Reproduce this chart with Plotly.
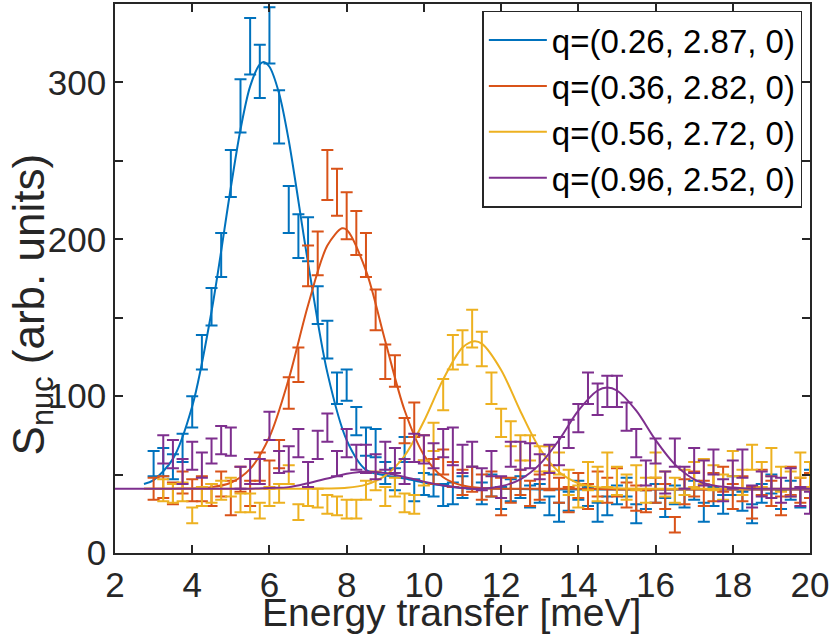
import plotly.graph_objects as go

# ---------------- data ----------------
energy = [3.00, 3.25, 3.50, 3.75, 4.00, 4.25, 4.50, 4.75, 5.00, 5.25, 5.50, 5.75,
          6.00, 6.25, 6.50, 6.75, 7.00, 7.25, 7.50, 7.75, 8.00, 8.25, 8.50, 8.75,
          9.00, 9.25, 9.50, 9.75, 10.00, 10.25, 10.50, 10.75, 11.00, 11.25, 11.50, 11.75,
          12.00, 12.25, 12.50, 12.75, 13.00, 13.25, 13.50, 13.75, 14.00, 14.25, 14.50, 14.75,
          15.00, 15.25, 15.50, 15.75, 16.00, 16.25, 16.50, 16.75, 17.00, 17.25, 17.50, 17.75,
          18.00, 18.25, 18.50, 18.75, 19.00, 19.25, 19.50, 19.75, 20.00]
energy_late = energy[1:]   # purple and yellow start at 3.25 meV

blue_val = [57, 58, 55, 67, 90, 128, 157, 190, 242, 285, 323, 307,
            330, 278, 219, 202, 200, 158, 136, 105, 107, 84, 71, 70,
            51, 47, 66, 40, 44, 43, 37, 38, 42, 48, 38, 43,
            35, 40, 42, 36, 38, 30, 26, 33, 40, 36, 26, 30,
            37, 42, 25, 34, 38, 29, 37, 35, 40, 26, 36, 31,
            43, 33, 25, 38, 44, 34, 40, 35, 47]
blue_err = [8, 9, 8, 9, 10, 11, 12, 14, 15, 17, 18, 17,
            18, 17, 15, 14, 14, 12, 12, 10, 10, 9, 9, 9,
            7, 7, 8, 7, 7, 7, 7, 7, 7, 7, 7, 7,
            7, 7, 7, 7, 6, 6, 6, 6, 6, 6, 6, 6,
            6, 6, 6, 6, 6, 6, 6, 6, 6, 6, 6, 6,
            6, 6, 6, 6, 6, 6, 6, 6, 6]

orange_val = [41, 42, 38, 45, 40, 41, 37, 44, 35, 47, 38, 55,
              50, 63, 102, 120, 183, 191, 241, 230, 215, 204, 190, 155,
              122, 116, 78, 85, 67, 52, 58, 50, 45, 47, 42, 44,
              36, 40, 45, 38, 42, 48, 40, 34, 43, 36, 44, 40,
              45, 37, 35, 33, 40, 36, 18, 39, 44, 38, 42, 47,
              36, 41, 32, 45, 38, 30, 46, 40, 43]
orange_err = [7, 7, 7, 7, 7, 8, 7, 8, 11, 8, 8, 9,
              9, 9, 10, 11, 13, 14, 16, 15, 15, 14, 14, 13,
              11, 10, 8, 11, 8, 8, 8, 8, 8, 8, 8, 8,
              12, 8, 8, 8, 8, 8, 8, 8, 8, 8, 8, 8,
              9, 8, 8, 7, 8, 8, 5, 8, 8, 8, 9, 8,
              8, 8, 10, 8, 8, 6, 9, 8, 8]

yellow_val = [40, 38, 39, 24, 36, 38, 40, 42, 32, 32, 27,
              36, 38, 50, 26, 36, 35, 31, 30, 28, 28, 40, 46,
              36, 42, 32, 31, 51, 74, 101, 128, 131, 143, 130, 105,
              83, 76, 67, 67, 60, 60, 57, 45, 36, 49, 44, 53,
              46, 42, 48, 40, 56, 44, 40, 45, 50, 52, 48, 42,
              57, 45, 61, 50, 58, 47, 44, 56, 50]
yellow_err = [7, 6, 6, 5, 6, 6, 6, 6, 6, 6, 5,
              6, 6, 6, 5, 6, 6, 6, 6, 6, 6, 6, 6,
              6, 6, 6, 6, 8, 9, 10, 11, 11, 12, 11, 10,
              9, 8, 8, 8, 8, 8, 7, 8, 7, 9, 11, 11,
              9, 8, 8, 8, 8, 8, 8, 8, 8, 8, 8, 8,
              8, 8, 8, 8, 9, 8, 8, 8, 8]

purple_val = [66, 63, 52, 62, 56, 65, 72, 71, 48, 52, 52,
              81, 58, 60, 70, 50, 69, 80, 57, 70, 61, 60, 55,
              62, 59, 52, 67, 66, 62, 70, 68, 60, 63, 47, 57,
              42, 63, 62, 62, 55, 60, 65, 76, 86, 105, 98, 103,
              103, 87, 70, 51, 65, 45, 64, 48, 59, 51, 58, 40,
              50, 57, 36, 44, 42, 40, 45, 36, 32]
purple_err = [9, 9, 8, 9, 8, 8, 9, 9, 7, 8, 8,
              9, 7, 8, 9, 8, 9, 9, 8, 9, 8, 9, 8,
              9, 8, 8, 9, 9, 8, 9, 12, 9, 8, 7, 8,
              7, 8, 9, 8, 8, 9, 9, 9, 9, 10, 10, 10,
              10, 9, 9, 8, 8, 7, 9, 7, 8, 8, 8, 7,
              9, 9, 7, 8, 7, 8, 9, 6, 7]

# fitted curves
blue_fit_x = [2.75, 3.0, 3.5, 4.0, 4.5, 5.0, 5.25, 5.5, 5.75, 5.85, 6.0, 6.25, 6.5, 7.0,
              7.5, 8.0, 8.5, 9.0, 9.5, 10.0, 10.5, 11.0, 12.0, 13.0, 14.0, 15.0, 16.0,
              17.0, 18.0, 19.0, 20.0]
blue_fit_y = [44, 46.5, 60, 93.5, 154, 233, 270, 297.5, 311.5, 313, 310, 293, 263, 185,
              115, 72, 53, 49.5, 47.5, 45, 43, 41.5, 41, 40.5, 40.5, 40.5, 40.5,
              40.5, 40.5, 40.5, 40.5]

orange_fit_x = [2.75, 3.5, 4.5, 5.0, 5.5, 6.0, 6.5, 7.0, 7.5, 7.88, 8.0, 8.5, 9.0, 9.5, 10.0,
                10.5, 11.0, 11.5, 12.0, 13.0, 14.0, 15.0, 16.0, 17.0, 18.0, 19.0, 20.0]
orange_fit_y = [41, 41, 42, 44.8, 53.6, 74, 111, 158, 196, 207, 206, 180, 135, 91, 62.5,
                48.3, 43, 41.5, 41, 41, 41, 40.5, 40.5, 40.5, 40.5, 40.5, 40.5]

yellow_fit_x = [2.75, 4.0, 5.0, 6.0, 7.0, 8.0, 8.5, 9.0, 9.5, 10.0, 10.5, 11.0, 11.31, 11.5,
                12.0, 12.5, 13.0, 13.5, 14.0, 14.5, 15.0, 16.0, 17.0, 18.0, 19.0, 20.0]
yellow_fit_y = [41, 41, 41, 41, 41, 41.6, 43.6, 49.3, 62, 84, 110.7, 131, 135, 133.5,
                116.7, 90.4, 66.6, 51.6, 44.5, 42, 41.3, 41, 41, 41, 41, 41]

purple_fit_x = [2.0, 3.0, 4.0, 5.0, 5.5, 6.0, 6.5, 7.0, 7.5, 8.0, 8.5, 9.0, 9.5, 10.0,
                10.5, 11.0, 11.5, 12.0, 12.5, 13.0, 13.5, 14.0, 14.5, 14.75, 15.0, 15.5,
                16.0, 16.5, 17.0, 17.5, 18.0, 18.5, 19.0, 20.0]
purple_fit_y = [41, 41, 41, 41, 41, 41.5, 42, 44.5, 47.5, 50.5, 52, 51, 48.5, 45.5,
                43, 41.5, 41, 42.5, 47, 56.5, 72, 90.7, 103.6, 105.5, 103.6, 90.7,
                72, 56.5, 47, 43, 41.7, 41, 41, 41]

labels = ["q=(0.26, 2.87, 0)", "q=(0.36, 2.82, 0)", "q=(0.56, 2.72, 0)", "q=(0.96, 2.52, 0)"]
colors = ["#0072BD", "#D95319", "#EDB120", "#7E2F8E"]

x_title = "Energy transfer [meV]"
y_title = "S<sub>nuc</sub> (arb. units)"

# ---------------- figure ----------------
series = [
    (energy, blue_val, blue_err, blue_fit_x, blue_fit_y),
    (energy, orange_val, orange_err, orange_fit_x, orange_fit_y),
    (energy_late, yellow_val, yellow_err, yellow_fit_x, yellow_fit_y),
    (energy_late, purple_val, purple_err, purple_fit_x, purple_fit_y),
]

fig = go.Figure()
for (ex, val, err, fx, fy), lab, col in zip(series, labels, colors):
    fig.add_trace(go.Scatter(
        x=ex, y=val, mode="markers",
        marker=dict(size=1, color=col, opacity=0),
        error_y=dict(type="data", array=err, visible=True, color=col,
                     thickness=2, width=6),
        showlegend=False, hoverinfo="skip"))
    fig.add_trace(go.Scatter(
        x=fx, y=fy, mode="lines", name=lab,
        line=dict(color=col, width=2, shape="spline", smoothing=0.9)))

font_family = "Liberation Sans, Arial, Helvetica, sans-serif"
axis_col = "#262626"

fig.update_layout(
    width=831, height=635,
    margin=dict(l=115, r=17, t=2, b=82),
    paper_bgcolor="white", plot_bgcolor="white",
    font=dict(family=font_family, color=axis_col, size=35),
    showlegend=True,
    legend=dict(x=0.989, y=0.988, xanchor="right", yanchor="top",
                bgcolor="white", bordercolor="#262626", borderwidth=1.5,
                font=dict(size=33, color="black", family=font_family),
                itemwidth=58, tracegroupgap=0),
    annotations=[
        dict(text=x_title, xref="paper", yref="paper", x=0.4835, y=-0.108,
             xanchor="center", yanchor="middle", showarrow=False,
             font=dict(size=39, color=axis_col, family=font_family)),
        dict(text=y_title, xref="paper", yref="paper", x=-0.12, y=0.452,
             xanchor="center", yanchor="middle", showarrow=False, textangle=-90,
             font=dict(size=44, color=axis_col, family=font_family)),
    ],
)
fig.update_xaxes(
    range=[2, 20], tick0=2, dtick=2, ticks="inside", ticklen=8, tickwidth=1.5,
    tickcolor=axis_col, showline=True, linecolor=axis_col, linewidth=1.5,
    mirror="ticks", showgrid=False, zeroline=False, ticklabeloverflow="allow",
    tickfont=dict(size=35, color=axis_col),
)
fig.update_yaxes(
    range=[0, 350], tick0=0, dtick=100, ticks="inside", ticklen=8,
    tickwidth=1.5, tickcolor=axis_col, showline=True, linecolor=axis_col, linewidth=1.5,
    mirror="ticks", showgrid=False, zeroline=False, ticklabeloverflow="allow",
    minor=dict(dtick=50, ticks="inside", ticklen=8, tickwidth=1.5, tickcolor=axis_col,
               showgrid=False),
    tickfont=dict(size=35, color=axis_col),
)

fig.write_html("out.html", config={"displayModeBar": False},
               post_script="document.body.style.margin='0px';")
